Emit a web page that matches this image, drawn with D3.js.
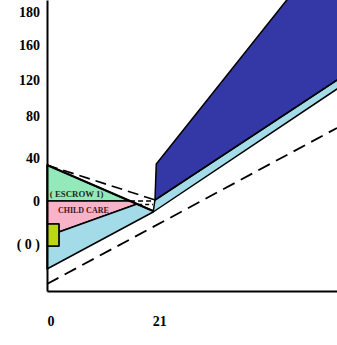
<!DOCTYPE html>
<html>
  <head>
    <meta charset="utf-8">
    <title>Child care budget line</title>
    <script src="https://cdn.jsdelivr.net/npm/d3@7"></script>
    <style>
      body { margin: 0; background: #fff; }
      text { font-family: "Liberation Serif", "Times New Roman", serif; font-weight: bold; }
    </style>
  </head>
  <body>
    <script type="text/javascript">
      // tick labels (schematic, positions in chart units)
      var yTickPos = [189, 156, 121, 85, 43, 0, -43];
      var yTickLabels = ["180", "160", "120", "80", "40", "0", "( 0 )"];
      var xTickPos = [0, 21];
      var xTickLabels = ["0", "21"];

      // regions, as [hours, income]
      var escrow = [[0, 36], [0, 0], [16.04, 0]];
      var childCare = [[0, 0], [16.04, 0], [17.4, -3], [2.3, -31], [2.3, -23], [0, -23]];
      var blueLeft = [[2.3, -31], [17.4, -3], [20.5, -10], [20.5, -11], [0, -68], [0, -45], [2.3, -45]];
      var blueRight = [[20.5, -11], [20.85, 1], [62, 141.5], [62, 132.8]];
      var darkBlue = [[20.85, 1], [21.1, 37], [52.3, 240], [62, 240], [62, 141.5]];
      var box = [[0, -23], [2.3, -23], [2.3, -45], [0, -45]];

      // lines
      var diagonal = [[0, 36], [20.5, -10]];
      var dashedTop = [[0, 36], [20.85, 1]];
      var zeroDash = [[16.04, 0], [20.85, 0]];
      var zeroDash2 = [[17.6, -3.5], [20.5, -3.5]];
      var dashedLow = [[0, -83], [56, 73]];

      var w = 337, h = 345;
      var svg = d3.select("body").append("svg")
                  .attr("width", w)
                  .attr("height", h);

      var x = d3.scaleLinear().domain([0, 56]).range([47, 337]);
      var y = d3.scaleLinear().domain([-90, 201]).range([291, 0]);

      var line = d3.line()
                   .x(function(d) { return x(d[0]); })
                   .y(function(d) { return y(d[1]); });

      var plot = svg.append("g");

      function area(pts, fill) {
        plot.append("path")
            .attr("d", line(pts) + "Z")
            .attr("fill", fill)
            .attr("stroke", "#000")
            .attr("stroke-width", 1.5)
            .attr("stroke-linejoin", "round");
      }
      area(escrow, "#93e9b9");
      area(childCare, "#f8b3c9");
      area(blueLeft, "#a4dbe8");
      area(blueRight, "#a4dbe8");
      area(darkBlue, "#3338a6");
      area(box, "#bcd616");

      plot.append("path")
          .attr("d", line(diagonal))
          .attr("fill", "none")
          .attr("stroke", "#000")
          .attr("stroke-width", 2);

      function dashed(pts, dash, sw) {
        plot.append("path")
            .attr("d", line(pts))
            .attr("fill", "none")
            .attr("stroke", "#000")
            .attr("stroke-width", sw)
            .attr("stroke-dasharray", dash);
      }
      dashed(dashedTop, "11,6", 1.6);
      dashed(zeroDash, "5,3", 1.6);
      dashed(zeroDash2, "4,3", 1.4);
      dashed(dashedLow, "13,7", 1.8);

      // labels in the regions
      plot.append("text")
          .attr("x", x(0.55)).attr("y", y(4.5))
          .attr("font-size", 8.8).attr("fill", "#1c2a1c")
          .text("( ESCROW 1)");
      plot.append("text")
          .attr("x", x(2.1)).attr("y", y(-11.5))
          .attr("font-size", 8).attr("fill", "#3a1626")
          .text("CHILD CARE");

      // axes
      var yAxis = d3.axisLeft(y)
                    .tickValues(yTickPos)
                    .tickFormat(function(d, i) { return yTickLabels[i]; })
                    .tickSize(0)
                    .tickPadding(7);
      var gy = svg.append("g")
                  .attr("transform", "translate(47,0)")
                  .call(yAxis);

      var xAxis = d3.axisBottom(x)
                    .tickValues(xTickPos)
                    .tickFormat(function(d, i) { return xTickLabels[i]; })
                    .tickSize(0)
                    .tickPadding(25);
      var gx = svg.append("g")
                  .attr("transform", "translate(0,291)")
                  .call(xAxis);
      gx.selectAll("text").attr("dx", 3.5);

      [gx, gy].forEach(function(g) {
        g.select(".domain").attr("stroke", "#000").attr("stroke-width", 2);
        g.selectAll("text")
         .attr("font-family", "Liberation Serif, serif")
         .attr("font-weight", "bold")
         .attr("font-size", 14)
         .attr("fill", "#000");
      });
    </script>
  </body>
</html>
